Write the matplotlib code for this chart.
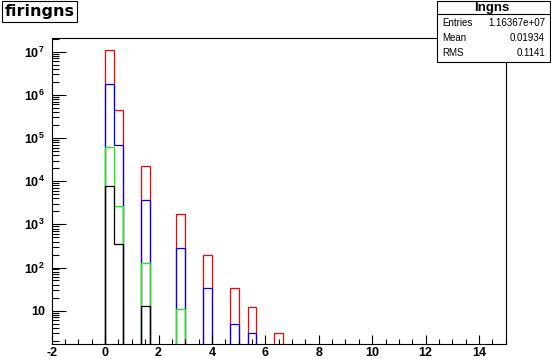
import numpy as np
import matplotlib
matplotlib.use("Agg")
import matplotlib.pyplot as plt
from matplotlib.patches import Rectangle
from matplotlib.lines import Line2D
from matplotlib.ticker import FixedLocator, FixedFormatter, NullFormatter

plt.rcParams.update({
    "font.family": "Liberation Sans",
    "mathtext.fontset": "custom",
    "mathtext.rm": "Liberation Sans:bold",
    "mathtext.it": "Liberation Sans:bold",
    "mathtext.bf": "Liberation Sans:bold",
    "axes.linewidth": 0.8,
    "axes.unicode_minus": False,
})

# histogram: 51 bins from -2 to 15, only filled bins listed (by low edge)
N_BINS = 51
X_LO, X_HI = -2.0, 15.0
filled_lo = [0.0, 1 / 3, 4 / 3, 8 / 3, 11 / 3, 14 / 3, 16 / 3, 19 / 3]

red_counts = [11170000, 439000, 22100, 1740, 192, 34, 12, 3]
blue_counts = [1780000, 68000, 3600, 279, 34, 5, 3, 0]
green_counts = [61000, 2660, 125, 11, 0, 0, 0, 0]
black_counts = [7700, 345, 13, 0, 0, 0, 0, 0]

hist_title = "firingns"
stats_name = "lngns"
stats_labels = ["Entries", "Mean", "RMS"]
stats_values = ["1.16367e+07", "0.01934", "0.1141"]

x_ticks = [-2, 0, 2, 4, 6, 8, 10, 12, 14]
y_ticks = [1e1, 1e2, 1e3, 1e4, 1e5, 1e6, 1e7]
y_tick_labels = ["10", "$10^{2}$", "$10^{3}$", "$10^{4}$", "$10^{5}$",
                 "$10^{6}$", "$10^{7}$"]

W, H = 551, 359
edges = np.linspace(X_LO, X_HI, N_BINS + 1)


def full_hist(counts):
    vals = np.full(N_BINS, 1e-2)  # empty bins sit below the axis floor
    for lo, c in zip(filled_lo, counts):
        idx = int(round((lo - X_LO) / (edges[1] - edges[0])))
        if c > 0:
            vals[idx] = c
    return vals


fig = plt.figure(figsize=(W / 100, H / 100), dpi=100)
ax = fig.add_axes([51.7 / W, 15 / H, (505.7 - 51.7) / W, (344 - 37.5) / H])

for counts, color in [(red_counts, "#ff0000"), (blue_counts, "#0000ff"),
                      (green_counts, "#00ff00"), (black_counts, "#000000")]:
    ax.stairs(full_hist(counts), edges, baseline=1e-2, color=color,
              linewidth=0.9)

ax.set_yscale("log")
ax.set_xlim(X_LO, X_HI)
ax.set_ylim(1.69, 2.13e7)

ax.xaxis.set_major_locator(FixedLocator(x_ticks))
ax.xaxis.set_minor_locator(FixedLocator(np.arange(-2, 15.01, 0.5)))
ax.yaxis.set_major_locator(FixedLocator(y_ticks))
ax.yaxis.set_major_formatter(FixedFormatter(y_tick_labels))
minors = [m * 10 ** d for d in range(0, 8) for m in range(2, 10)]
ax.yaxis.set_minor_locator(FixedLocator(minors))
ax.yaxis.set_minor_formatter(NullFormatter())

ax.tick_params(axis="both", which="both", direction="in", top=False,
               right=False, width=0.8, labelsize=9)
ax.tick_params(axis="x", which="major", length=6.5, pad=2)
ax.tick_params(axis="x", which="minor", length=3.5)
ax.tick_params(axis="y", which="major", length=10, pad=5)
ax.tick_params(axis="y", which="minor", length=5)
for lab in ax.get_xticklabels() + ax.get_yticklabels():
    lab.set_fontweight("bold")

# title box (top left)
fig.add_artist(Rectangle((2 / W, 1 - 22 / H), 75 / W, 21 / H,
                         transform=fig.transFigure, facecolor="white",
                         edgecolor="black", linewidth=0.8))
fig.text(39.5 / W, 1 - 11.5 / H, hist_title, ha="center", va="center",
         fontsize=11.5, fontweight="bold", family="DejaVu Sans")

# stats box (top right)
fig.add_artist(Rectangle((437 / W, 1 - 62 / H), 113 / W, 61 / H,
                         transform=fig.transFigure, facecolor="white",
                         edgecolor="black", linewidth=0.8))
fig.add_artist(Line2D([437 / W, 550 / W], [1 - 14 / H, 1 - 14 / H],
                      transform=fig.transFigure, color="black",
                      linewidth=0.8))
fig.text(492 / W, 1 - 7.5 / H, stats_name, ha="center", va="center",
         fontsize=9.5, fontweight="bold")
for i, (lab, val) in enumerate(zip(stats_labels, stats_values)):
    yy = 1 - (23 + 15 * i) / H
    fig.text(442 / W, yy, lab, ha="left", va="center", fontsize=7)
    fig.text(545 / W, yy, val, ha="right", va="center", fontsize=7)

fig.savefig("out.png", dpi=100)
